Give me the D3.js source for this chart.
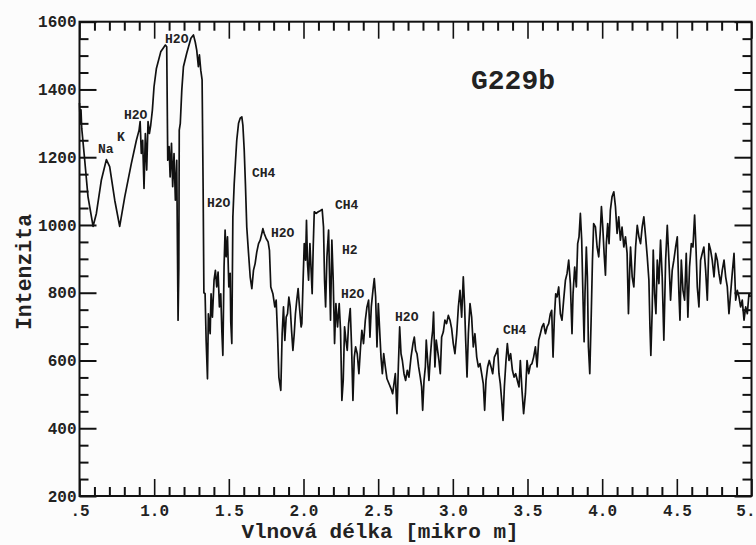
<!DOCTYPE html>
<html><head><meta charset="utf-8">
<script src="https://cdn.jsdelivr.net/npm/d3@7"></script>
<style>body{margin:0;background:#fcfcfc} svg{display:block}</style>
</head><body><svg id="c" width="756" height="545"></svg>
<script>
// ---- data ----
const wavelength = [
0.500,0.505,0.510,0.515,0.535,0.557,0.591,0.613,0.646,0.680,0.702,0.736,0.769,0.803,0.847,0.881,0.899,0.906,0.914,0.923,0.932,0.941,0.950,0.959,0.968,0.977,0.988,0.999,1.015,1.044,1.075,1.084,1.091,1.100,1.107,1.116,1.124,1.133,1.142,1.151,1.160,1.165,1.168,1.175,1.185,1.196,1.218,1.246,1.263,1.275,1.285,1.296,1.303,1.312,1.321,1.328,1.333,
1.341,1.348,1.357,1.363,1.375,1.381,1.390,1.401,1.410,1.419,1.428,1.437,1.446,1.453,1.460,1.468,1.475,1.482,1.491,1.500,1.509,1.513,1.520,1.527,1.536,1.545,1.553,1.565,1.576,1.587,1.594,1.603,1.611,1.620,1.632,1.643,1.654,1.665,1.676,1.687,1.699,1.710,1.721,1.728,1.737,1.750,1.763,1.772,1.781,1.795,1.808,1.817,1.826,1.835,1.848,1.857,1.866,1.875,1.884,1.893,1.902,1.911,1.920,1.929,1.938,1.946,1.955,1.964,1.973,1.984,
1.989,1.996,2.005,2.014,2.020,2.027,2.034,2.043,2.052,2.058,2.065,2.072,2.085,2.099,2.112,2.125,2.134,2.141,2.148,2.157,2.168,2.175,2.181,2.190,2.199,2.208,2.217,2.228,2.239,2.248,2.257,2.266,2.275,2.284,2.293,2.302,2.313,2.322,2.331,2.340,2.349,2.360,2.371,2.382,2.391,2.402,2.414,2.425,2.436,2.445,2.454,2.465,2.474,2.483,2.492,2.501,2.510,2.519,2.528,2.537,2.548,2.559,2.572,2.586,2.597,2.606,2.615,2.626,2.635,2.644,2.653,2.662,2.673,2.684,2.695,2.706,2.720,2.733,
2.742,2.751,2.760,2.771,2.782,2.791,2.798,2.807,2.816,2.822,2.831,2.840,2.849,2.858,2.865,2.871,2.880,2.889,2.898,2.907,2.916,2.925,2.936,2.947,2.958,2.970,2.981,2.992,3.003,3.014,3.026,3.037,3.048,3.059,3.070,3.079,3.086,3.095,3.104,3.115,3.126,3.137,3.148,3.160,3.171,3.182,3.193,3.204,3.213,3.222,3.233,3.244,3.256,3.267,3.278,3.289,3.300,3.309,3.318,3.327,3.336,3.345,3.356,3.365,3.376,3.387,3.399,3.410,3.421,3.432,3.443,
3.452,3.463,3.474,3.486,3.497,3.508,3.519,3.530,3.541,3.553,3.564,3.575,3.586,3.597,3.608,3.620,3.631,3.642,3.653,3.662,3.671,3.680,3.689,3.698,3.709,3.720,3.731,3.742,3.754,3.765,3.776,3.787,3.798,3.805,3.816,3.827,3.836,3.845,3.854,3.863,3.872,3.879,3.885,3.894,3.901,3.908,3.917,3.926,3.935,3.943,3.955,3.966,3.977,3.988,3.995,4.004,4.013,4.022,4.028,4.037,4.046,4.055,4.066,4.078,4.089,4.100,4.111,4.122,4.133,4.145,4.156,4.167,4.176,4.185,
4.190,4.201,4.212,4.224,4.235,4.246,4.257,4.268,4.279,4.291,4.302,4.313,4.320,4.326,4.335,4.342,4.351,4.360,4.369,4.380,4.391,4.402,4.413,4.425,4.436,4.447,4.458,4.469,4.480,4.492,4.503,4.514,4.521,4.530,4.541,4.552,4.563,4.574,4.585,4.597,4.608,4.619,4.628,4.637,4.648,4.659,4.670,4.681,4.693,4.704,4.715,4.726,4.737,4.749,4.760,4.771,4.782,4.793,4.804,4.816,4.827,4.838,4.849,4.860,4.871,4.883,4.894,4.905,4.916,4.927,4.938,4.950,4.961,4.972,4.983,4.994
];
const intensity = [
1360,1300,1340,1285,1191,1083,996,1034,1132,1193,1172,1073,996,1083,1181,1250,1280,1305,1211,1250,1108,1270,1162,1305,1270,1295,1339,1408,1462,1511,1531,1526,1191,1231,1142,1241,1113,1211,1073,1191,719,870,1280,1300,1398,1467,1507,1551,1561,1540,1516,1467,1502,1457,1428,1100,800,
797,659,546,738,679,797,728,837,866,817,861,758,797,689,615,876,985,906,965,817,857,714,650,1024,1122,1191,1250,1300,1315,1319,1295,1221,1122,994,916,847,812,866,886,920,945,955,975,989,975,960,950,925,817,797,758,778,679,551,512,679,758,659,728,738,787,758,689,630,679,738,778,812,758,699,
709,817,945,896,1014,886,837,945,857,797,935,1039,1034,1039,1042,1046,994,837,758,906,985,837,719,955,837,650,768,699,768,689,482,541,699,660,630,709,753,640,482,610,640,620,561,640,689,650,719,758,778,669,758,807,842,788,640,768,689,610,561,620,581,546,532,517,502,532,561,443,581,699,620,600,561,541,571,551,610,650,
669,630,620,581,551,522,453,541,581,660,600,541,610,660,689,743,581,660,630,600,561,669,684,719,709,733,719,694,650,620,679,758,807,728,847,758,660,551,679,768,728,640,679,610,581,591,561,531,453,541,581,600,581,561,610,620,635,561,531,482,423,522,600,650,600,620,571,551,561,541,522,
600,512,443,502,600,561,586,591,610,640,581,660,679,699,709,679,699,709,738,748,610,728,797,788,817,738,719,778,837,857,896,827,679,797,876,817,945,965,1034,955,778,655,797,935,847,640,561,719,896,1004,994,935,906,985,1054,994,916,852,945,1004,945,1044,1083,1098,1054,975,1024,955,994,935,965,916,738,876,
935,847,817,935,999,965,945,994,1024,965,906,837,699,615,748,926,797,738,896,827,955,847,660,896,999,896,778,866,896,935,965,797,719,896,807,778,916,728,876,945,935,1029,935,817,758,896,916,935,866,778,945,926,896,847,916,896,857,827,866,896,847,817,738,797,857,916,778,807,788,758,778,719,758,738,797,788
];
const xTickValues = [0.5,1.0,1.5,2.0,2.5,3.0,3.5,4.0,4.5,5.0];
const xTickLabels = [".5","1.0","1.5","2.0","2.5","3.0","3.5","4.0","4.5","5."];
const yTickValues = [200,400,600,800,1000,1200,1400,1600];
const yTickLabels = ["200","400","600","800","1000","1200","1400","1600"];
const labelText = ["Na","K","H2O","H2O","H2O","CH4","H2O","CH4","H2","H2O","H2O","CH4"];
const labelWl   = [0.624,0.751,0.798,1.073,1.354,1.655,1.782,2.211,2.258,2.251,2.613,3.336];
const labelInt  = [1212,1248,1313,1537,1053,1142,964,1047,914,784,716,678];
const titleText = "G229b";
const titleWl = 3.403, titleInt = 1401;
const xTitle = "Vlnová délka [mikro m]";
const yTitle = "Intenzita";

// ---- drawing ----
const svg = d3.select("#c");
const L = 79.5, R = 751.5, T = 21.7, B = 496;
const x = d3.scaleLinear().domain([0.5, 5.0]).range([L, R]);
const y = d3.scaleLinear().domain([200, 1600]).range([B, T]);
const font = "'Liberation Mono','Courier New',monospace";

svg.append("rect").attr("width",756).attr("height",545).attr("fill","#fcfcfc");

const xMinor = d3.range(0.5, 5.0001, 0.1).filter(v => Math.abs(v*2 - Math.round(v*2)) > 1e-6);
const yMinor = d3.range(200, 1601, 50).filter(v => v % 200 !== 0);

function styleAxis(g, w){
  g.select(".domain").remove();
  g.selectAll(".tick line").attr("stroke","#111").attr("stroke-width", w);
}
// bottom
svg.append("g").attr("transform",`translate(0,${B})`)
  .call(d3.axisBottom(x).tickValues(xTickValues).tickSize(-17).tickPadding(9).tickFormat((d,i)=>xTickLabels[i]))
  .call(g=>styleAxis(g,1.6))
  .call(g=>g.selectAll("text").attr("font-family",font).attr("font-weight","bold").attr("font-size",16).attr("fill","#222"))
  .call(g=>g.selectAll(".tick").filter(d=>d===5.0).select("text").attr("text-anchor","end").attr("x",3.5));
svg.append("g").attr("transform",`translate(0,${B})`)
  .call(d3.axisBottom(x).tickValues(xMinor).tickSize(-9).tickFormat(""))
  .call(g=>styleAxis(g,2));
// top
svg.append("g").attr("transform",`translate(0,${T})`)
  .call(d3.axisTop(x).tickValues(xTickValues).tickSize(-17).tickFormat(""))
  .call(g=>styleAxis(g,1.6));
svg.append("g").attr("transform",`translate(0,${T})`)
  .call(d3.axisTop(x).tickValues(xMinor).tickSize(-9).tickFormat(""))
  .call(g=>styleAxis(g,2));
// left
svg.append("g").attr("transform",`translate(${L},0)`)
  .call(d3.axisLeft(y).tickValues(yTickValues).tickSize(-17).tickPadding(3).tickFormat((d,i)=>yTickLabels[i]))
  .call(g=>styleAxis(g,2))
  .call(g=>g.selectAll("text").attr("font-family",font).attr("font-weight","bold").attr("font-size",16).attr("fill","#222"));
svg.append("g").attr("transform",`translate(${L},0)`)
  .call(d3.axisLeft(y).tickValues(yMinor).tickSize(-9).tickFormat(""))
  .call(g=>styleAxis(g,2));
// right
svg.append("g").attr("transform",`translate(${R},0)`)
  .call(d3.axisRight(y).tickValues(yTickValues).tickSize(-17).tickFormat(""))
  .call(g=>styleAxis(g,2));
svg.append("g").attr("transform",`translate(${R},0)`)
  .call(d3.axisRight(y).tickValues(yMinor).tickSize(-9).tickFormat(""))
  .call(g=>styleAxis(g,2));

// frame
svg.append("rect").attr("x",L).attr("y",T).attr("width",R-L).attr("height",B-T)
  .attr("fill","none").attr("stroke","#111").attr("stroke-width",2);

// spectrum
const pts = d3.zip(wavelength, intensity);
svg.append("path").datum(pts)
  .attr("fill","none").attr("stroke","#111").attr("stroke-width",1.7).attr("stroke-linejoin","round")
  .attr("d", d3.line().x(d=>x(d[0])).y(d=>y(d[1])));

// annotations
svg.append("g").selectAll("text").data(d3.range(labelText.length)).join("text")
  .attr("x", i=>x(labelWl[i])).attr("y", i=>y(labelInt[i]))
  .attr("font-family",font).attr("font-weight","bold").attr("font-size",13).attr("fill","#222")
  .text(i=>labelText[i]);

svg.append("text").attr("x",x(titleWl)).attr("y",y(titleInt)).attr("text-anchor","middle")
  .attr("font-family",font).attr("font-weight","bold").attr("font-size",28).attr("fill","#222")
  .text(titleText);

svg.append("text").attr("x",380).attr("y",538).attr("text-anchor","middle")
  .attr("font-family",font).attr("font-weight","bold").attr("font-size",21).attr("fill","#222")
  .text(xTitle);
svg.append("text").attr("transform","translate(31,272) rotate(-90)").attr("text-anchor","middle")
  .attr("font-family",font).attr("font-weight","bold").attr("font-size",21.5).attr("fill","#222")
  .text(yTitle);
</script>
</body></html>
